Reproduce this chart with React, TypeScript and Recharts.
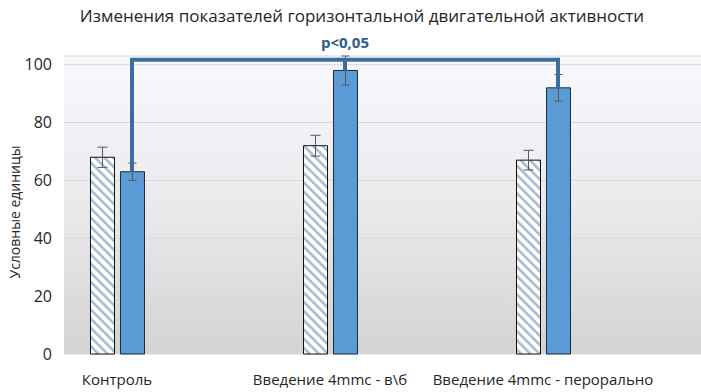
import React from 'react';
import { ComposedChart, Bar, XAxis, YAxis, CartesianGrid, ErrorBar, ReferenceLine } from 'recharts';

// groups
const categories = ['Контроль', 'Введение 4mmc - в\\б', 'Введение 4mmc - перорально'];
const before = [68, 72, 67];
const beforeErr = [3.5, 3.6, 3.4];
const after = [63, 98, 92];
const afterErr = [3, 5, 4.6];
const yTicks = [0, 20, 40, 60, 80, 100];

// significance bracket (value level and blue-bar offset in category units)
const bracketLevel = 101.7;
const blueOffset = 0.0704;
const capPad = 0.0094;

const data = categories.map((name, i) => ({
  x: i,
  name,
  before: before[i],
  beforeErr: beforeErr[i],
  after: after[i],
  afterErr: afterErr[i],
}));

const font = "'Open Sans', sans-serif";
const blue = '#3b6e9e';

export default function App() {
  const left = data[0];
  const mid = data[1];
  const right = data[2];
  return (
    <div style={{ position: 'fixed', left: 0, top: 0, width: 701, height: 392, background: '#fff', fontFamily: font }}>
      <div
        style={{
          position: 'absolute',
          left: 0,
          width: 724,
          top: 4,
          textAlign: 'center',
          fontSize: 17,
          color: '#262626',
        }}
      >
        Изменения показателей горизонтальной двигательной активности
      </div>
      <ComposedChart
        width={701}
        height={392}
        data={data}
        margin={{ top: 56, right: 0, bottom: 0, left: 0 }}
        barSize={24}
        barGap={6}
      >
        <defs>
          <linearGradient id="bg" x1="0" y1="0" x2="0" y2="1">
            <stop offset="0%" stopColor="#f8f9fd" />
            <stop offset="50%" stopColor="#eaeaed" />
            <stop offset="100%" stopColor="#d3d3d3" />
          </linearGradient>
          <pattern id="hatch" width="6.5" height="6.5" patternUnits="userSpaceOnUse" patternTransform="rotate(-45)">
            <rect width="6.5" height="6.5" fill="#ffffff" />
            <rect width="2.6" height="6.5" fill="#a8bccf" />
          </pattern>
        </defs>
        <CartesianGrid vertical={false} stroke="#d9d9d9" fill="url(#bg)" fillOpacity={1} />
        <XAxis
          dataKey="x"
          type="number"
          domain={[-0.2488, 2.7418]}
          ticks={[0, 1, 2]}
          tickFormatter={(v: number) => categories[v]}
          axisLine={false}
          tickLine={false}
          tickMargin={14}
          height={38}
          allowDataOverflow
          tick={{ fill: '#262626', fontSize: 15, fontFamily: font }}
        />
        <YAxis
          domain={[0, 100]}
          ticks={yTicks}
          axisLine={false}
          tickLine={false}
          tickMargin={6}
          width={64}
          tick={{ fill: '#262626', fontSize: 16, fontFamily: font }}
          label={{
            content: () => (
              <text
                x={14}
                y={212}
                transform="rotate(-90 14 212)"
                textAnchor="middle"
                dominantBaseline="central"
                fill="#262626"
                fontSize={14}
                fontFamily={font}
              >
                Условные единицы
              </text>
            ),
          }}
        />
        <Bar dataKey="before" fill="url(#hatch)" stroke="#111" strokeWidth={1} isAnimationActive={false}>
          <ErrorBar dataKey="beforeErr" width={5} stroke="#595959" strokeWidth={1} />
        </Bar>
        <Bar dataKey="after" fill="#5b9bd5" stroke="#1c2b3f" strokeWidth={1} isAnimationActive={false}>
          <ErrorBar dataKey="afterErr" width={4} stroke="#595959" strokeWidth={1} />
        </Bar>
        <ReferenceLine
          ifOverflow="visible"
          stroke={blue}
          strokeWidth={4}
          segment={[
            { x: left.x + blueOffset - capPad, y: bracketLevel },
            { x: right.x + blueOffset + capPad, y: bracketLevel },
          ]}
          label={{ value: 'p<0,05', position: 'top', offset: 12, fill: '#2e5d88', fontSize: 15, fontWeight: 700, fontFamily: font }}
        />
        <ReferenceLine
          ifOverflow="visible"
          stroke={blue}
          strokeWidth={4}
          segment={[
            { x: left.x + blueOffset, y: bracketLevel },
            { x: left.x + blueOffset, y: left.after },
          ]}
        />
        <ReferenceLine
          ifOverflow="visible"
          stroke={blue}
          strokeWidth={4}
          segment={[
            { x: mid.x + blueOffset, y: bracketLevel },
            { x: mid.x + blueOffset, y: mid.after },
          ]}
        />
        <ReferenceLine
          ifOverflow="visible"
          stroke={blue}
          strokeWidth={4}
          segment={[
            { x: right.x + blueOffset, y: bracketLevel },
            { x: right.x + blueOffset, y: right.after },
          ]}
        />
      </ComposedChart>
    </div>
  );
}
